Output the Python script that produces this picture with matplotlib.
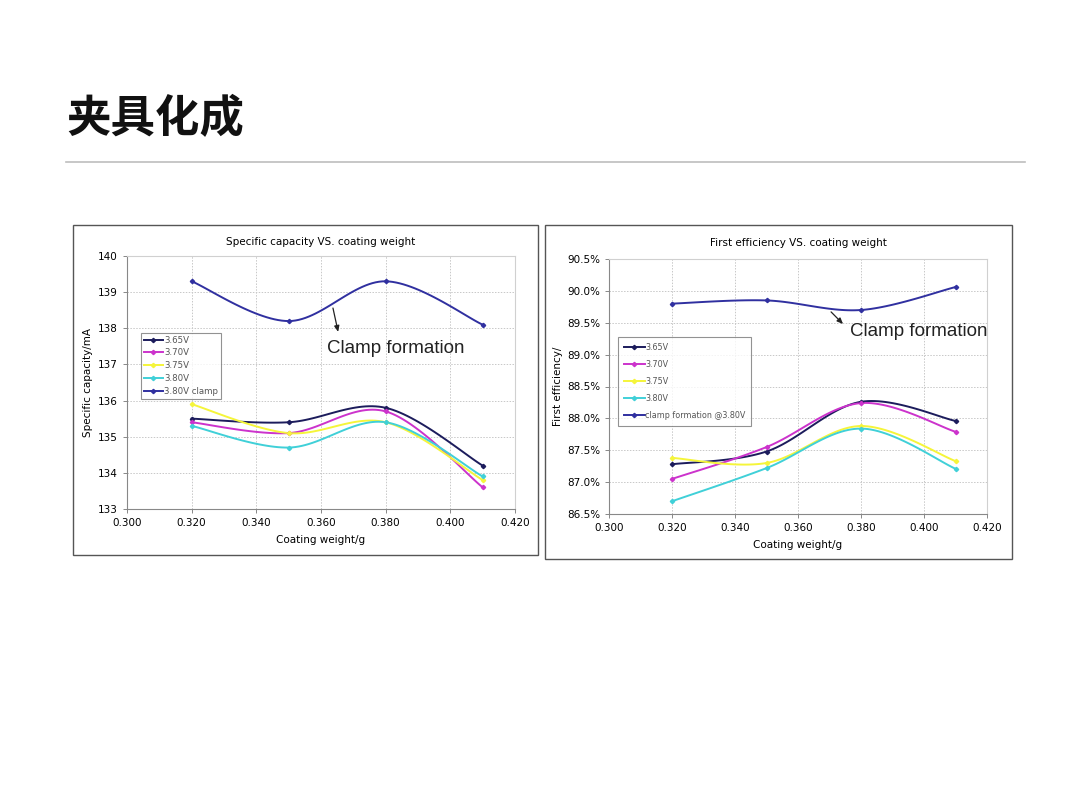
import numpy as np
import matplotlib
matplotlib.use("Agg")
import matplotlib.pyplot as plt
from matplotlib.patches import Rectangle
from matplotlib.lines import Line2D
from matplotlib.ticker import FuncFormatter, MultipleLocator

plt.rcParams['font.family'] = ['DejaVu Sans', 'Noto Sans CJK SC']

# ---------------- data ----------------
coating_weight = [0.320, 0.350, 0.380, 0.410]

cap_labels = ["3.65V", "3.70V", "3.75V", "3.80V", "3.80V clamp"]
cap_365 = [135.5, 135.4, 135.8, 134.2]
cap_370 = [135.4, 135.1, 135.7, 133.6]
cap_375 = [135.9, 135.1, 135.4, 133.8]
cap_380 = [135.3, 134.7, 135.4, 133.9]
cap_clamp = [139.3, 138.2, 139.3, 138.1]

eff_labels = ["3.65V", "3.70V", "3.75V", "3.80V", "clamp formation @3.80V"]
eff_365 = [87.28, 87.48, 88.26, 87.96]
eff_370 = [87.05, 87.55, 88.24, 87.79]
eff_375 = [87.38, 87.30, 87.88, 87.33]
eff_380 = [86.70, 87.22, 87.84, 87.21]
eff_clamp = [89.80, 89.85, 89.70, 90.06]

colors = ["#1c1c5c", "#cc33cc", "#f5f53a", "#40d0d8", "#3030a0"]

W, H = 1080, 809
fig = plt.figure(figsize=(W / 100, H / 100), dpi=100)


def fx(px):
    return px / W


def fy(py):
    return 1 - py / H


def smooth(xs, ys, n=30):
    """Excel-like smoothed line (Catmull-Rom Bezier) through the data points."""
    P = np.column_stack([xs, ys]).astype(float)
    out = []
    m = len(P)
    for i in range(m - 1):
        p0 = P[i - 1] if i > 0 else P[i]
        p1 = P[i]
        p2 = P[i + 1]
        p3 = P[i + 2] if i + 2 < m else P[i + 1]
        c1 = p1 + (p2 - p0) / 6.0
        c2 = p2 - (p3 - p1) / 6.0
        t = np.linspace(0, 1, n)[:, None]
        seg = ((1 - t) ** 3) * p1 + 3 * ((1 - t) ** 2) * t * c1 + 3 * (1 - t) * t ** 2 * c2 + t ** 3 * p2
        out.append(seg if i == 0 else seg[1:])
    out = np.vstack(out)
    return out[:, 0], out[:, 1]


# ---------------- page title ----------------
fig.text(fx(66), fy(119), "夹具化成", fontsize=32, fontweight='bold',
         family=['Noto Sans CJK SC'], va='center', ha='left', color='#111111')
fig.add_artist(Line2D([fx(66), fx(1025)], [fy(162), fy(162)], color='#bdbdbd', lw=1.2))

# frames
fig.add_artist(Rectangle((fx(73), fy(555)), fx(538) - fx(73), fy(225) - fy(555),
                         fill=False, ec='#555555', lw=1.0))
fig.add_artist(Rectangle((fx(545), fy(559)), fx(1012) - fx(545), fy(225) - fy(559),
                         fill=False, ec='#555555', lw=1.0))


def style_axes(ax):
    for s in ax.spines.values():
        s.set_color('#d0d0d0')
        s.set_linewidth(0.8)
    ax.spines['left'].set_color('#888888')
    ax.spines['bottom'].set_color('#888888')
    ax.grid(True, color='#c8c8c8', linestyle=(0, (1.5, 1.5)), linewidth=0.7)
    ax.set_axisbelow(True)
    ax.tick_params(axis='both', labelsize=7.5, length=3, color='#888888', width=0.7)
    ax.xaxis.set_major_locator(MultipleLocator(0.02))
    ax.xaxis.set_major_formatter(FuncFormatter(lambda v, p: f"{v:.3f}"))
    ax.set_xlim(0.300, 0.420)


arrow_props = dict(arrowstyle='-|>,head_length=0.35,head_width=0.15', color='#222222', lw=0.9,
                   shrinkA=0, shrinkB=0)

# ---------------- left chart ----------------
axL = fig.add_axes([fx(127), fy(509), fx(515) - fx(127), fy(256) - fy(509)])
style_axes(axL)
axL.set_ylim(133, 140)
axL.yaxis.set_major_locator(MultipleLocator(1))
cap_series = [cap_365, cap_370, cap_375, cap_380, cap_clamp]
handlesL = []
for vals, c, lab in zip(cap_series, colors, cap_labels):
    sx, sy = smooth(coating_weight, vals)
    axL.plot(sx, sy, color=c, lw=1.4, zorder=3)
    axL.plot(coating_weight, vals, ls='none', marker='D', ms=2.2, color=c, zorder=4)
    handlesL.append(Line2D([], [], color=c, lw=1.4, marker='D', ms=2.2, label=lab))
axL.set_title("Specific capacity VS. coating weight", fontsize=7.5, pad=8)
axL.set_xlabel("Coating weight/g", fontsize=7.5, labelpad=5)
axL.set_ylabel("Specific capacity/mA", fontsize=7.5, labelpad=4)
legL = fig.legend(handles=handlesL, loc='upper left',
                  bbox_to_anchor=(fx(141), fy(333)), fontsize=6.2,
                  frameon=True, fancybox=False, edgecolor='#777777',
                  handlelength=2.3, handletextpad=0.1, labelspacing=0.45,
                  borderpad=0.3, borderaxespad=0)
legL.get_frame().set_linewidth(0.8)
for t in legL.get_texts():
    t.set_color('#555555')
axL.annotate("", xy=(0.3653, 137.90), xytext=(0.3637, 138.56), arrowprops=arrow_props)
axL.text(0.3620, 137.43, "Clamp formation", fontsize=13.5, family=['Liberation Sans'],
         va='center', ha='left', color='#222222')

# ---------------- right chart ----------------
axR = fig.add_axes([fx(609), fy(514), fx(987) - fx(609), fy(259) - fy(514)])
style_axes(axR)
axR.set_ylim(86.5, 90.5)
axR.yaxis.set_major_locator(MultipleLocator(0.5))
axR.yaxis.set_major_formatter(FuncFormatter(lambda v, p: f"{v:.1f}%"))
eff_series = [eff_365, eff_370, eff_375, eff_380, eff_clamp]
handlesR = []
for vals, c, lab in zip(eff_series, colors, eff_labels):
    sx, sy = smooth(coating_weight, vals)
    axR.plot(sx, sy, color=c, lw=1.4, zorder=3)
    axR.plot(coating_weight, vals, ls='none', marker='D', ms=2.2, color=c, zorder=4)
    handlesR.append(Line2D([], [], color=c, lw=1.4, marker='D', ms=2.2, label=lab))
axR.set_title("First efficiency VS. coating weight", fontsize=7.5, pad=9)
axR.set_xlabel("Coating weight/g", fontsize=7.5, labelpad=5)
axR.set_ylabel("First efficiency/", fontsize=7.5, labelpad=3)
legR = fig.legend(handles=handlesR, loc='upper left',
                  bbox_to_anchor=(fx(618), fy(337)), fontsize=5.8,
                  frameon=True, fancybox=False, edgecolor='#777777',
                  handlelength=2.6, handletextpad=0.1, labelspacing=1.0,
                  borderpad=0.7, borderaxespad=0)
legR.get_frame().set_linewidth(0.8)
for t in legR.get_texts():
    t.set_color('#555555')
axR.annotate("", xy=(0.3743, 89.48), xytext=(0.3705, 89.67), arrowprops=arrow_props)
axR.text(0.3765, 89.355, "Clamp formation", fontsize=13.5, family=['Liberation Sans'],
         va='center', ha='left', color='#222222')

fig.savefig("out.png", dpi=100, facecolor='white')
